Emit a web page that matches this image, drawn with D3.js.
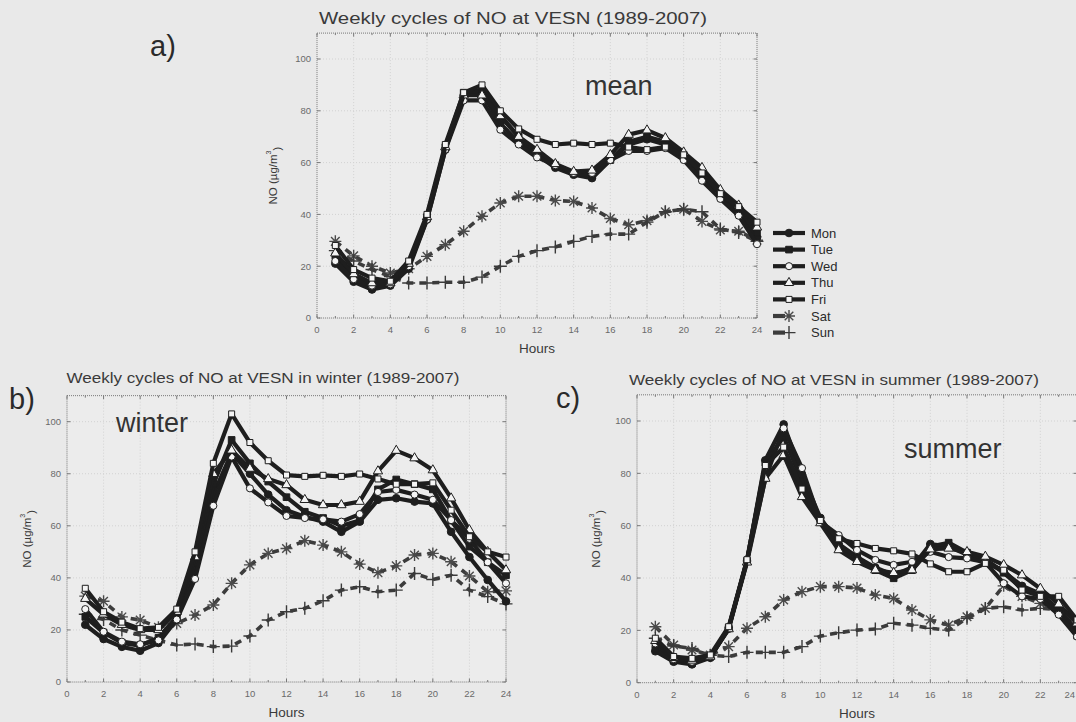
<!DOCTYPE html>
<meta charset="utf-8">
<script src="https://cdn.jsdelivr.net/npm/d3@7"></script>
<head>
	<title>Weekly cycles of NO at VESN</title>
	<style>
		body { margin: 0; background: #e9e9e9; }
		svg { display: block; font-family: "Liberation Sans", Arial, sans-serif; }
		.tick-label { font-size: 9.5px; fill: #6a6a6a; }
		.title { font-size: 14px; fill: #3a3a3a; }
	</style>
</head>
<body>
<div id="chart"></div>
<script>
	// hours of the day and the weekday names
	var hours = [1, 2, 3, 4, 5, 6, 7, 8, 9, 10, 11, 12, 13, 14, 15, 16, 17, 18, 19, 20, 21, 22, 23, 24];
	var days = ["Mon", "Tue", "Wed", "Thu", "Fri", "Sat", "Sun"];
	var xTicks = [0, 2, 4, 6, 8, 10, 12, 14, 16, 18, 20, 22, 24];
	var yTicks = [0, 20, 40, 60, 80, 100];

	// a) mean
	var meanMon = [21, 14, 11, 12.5, 19, 38, 65, 86, 87, 75, 68, 63, 58, 55.3, 54, 61, 67, 69, 67, 62, 55, 47, 40, 31];
	var meanTue = [24, 16, 13, 13.5, 20.5, 39, 66, 87, 88, 78, 70, 64, 59, 56, 55, 61, 68, 70, 68, 63, 56, 48, 42, 33];
	var meanWed = [22, 15, 12.5, 13, 20, 38, 65, 84, 84, 72.7, 67, 62, 59, 56, 56, 61, 64.5, 64.5, 65.6, 61, 53, 46, 39.5, 28.5];
	var meanThu = [25, 17, 13.5, 13.5, 21, 39, 66, 86, 86, 78, 70, 65, 59.5, 56.5, 57, 63, 70.8, 72.5, 69.5, 64, 58, 49.5, 43.5, 35];
	var meanFri = [28, 18.7, 15.4, 14.2, 22, 40, 67, 87, 90, 80, 73, 69, 67, 67.5, 67, 67.5, 66, 65, 66, 63, 56, 48, 43, 37];
	var meanSat = [29.6, 24, 20, 17.4, 19, 23.8, 28.3, 33.5, 39.3, 44.4, 47, 47, 45.4, 45, 42.5, 38.4, 36, 37.6, 41, 42, 37.3, 34, 33.5, 30];
	var meanSun = [26, 22, 18.7, 16, 13.5, 13.5, 13.8, 13.8, 15.8, 20, 23.8, 26, 27.4, 29.6, 31.5, 32.4, 32.4, 37, 41, 42, 41, 34.4, 33, 29.6];

	// b) winter
	var winterMon = [22, 16.5, 13.5, 12, 15, 24, 44, 72, 88, 80, 72, 66, 63.5, 61.6, 57.7, 61.6, 70, 70.6, 69.3, 68.6, 57.7, 48, 39.2, 31];
	var winterTue = [25, 19, 15, 14, 17, 25, 46, 76, 93, 84, 77, 71, 65.4, 63, 60, 62, 74, 77.8, 76, 74, 62, 52, 46, 41];
	var winterWed = [28, 19.3, 15.5, 14.5, 16, 24, 39.6, 67.7, 86.6, 74.4, 69, 63.8, 63, 62.5, 61.6, 64.5, 73, 73.8, 72, 70, 62.2, 55, 46, 37.9];
	var winterThu = [32, 26, 22, 20, 20, 27, 48, 80, 89, 82, 78, 75.7, 70, 68, 68, 69.3, 81, 88.9, 86, 81.4, 70.6, 58.4, 50, 43];
	var winterFri = [36, 27, 23, 20.5, 21, 28, 50, 84, 103, 92, 85, 79.5, 79, 79.4, 79, 79.9, 78, 76, 76, 76.5, 66, 55.8, 50, 48];
	var winterSat = [33, 31, 25, 23.8, 21, 22.5, 25.7, 29.6, 37.9, 45, 49.4, 51.3, 54.3, 52.6, 50, 45.3, 42, 44.6, 48.8, 49.4, 46.2, 40.7, 34.7, 35];
	var winterSun = [26, 24, 20, 18, 16, 14.2, 14.6, 13.6, 13.8, 17.7, 23.8, 27, 28.3, 31.2, 35.3, 36.6, 34.7, 35.3, 41.7, 39.4, 41, 35.3, 32.8, 30];

	// c) summer
	var summerMon = [12, 8, 7, 9.5, 21, 46.5, 85, 98.7, 79.4, 63, 53, 48, 44, 41.1, 44, 53, 52, 49, 47, 42.4, 37, 34, 28, 20];
	var summerTue = [13, 8.5, 7.5, 10, 21, 46.5, 84, 94, 77, 62.5, 52, 48, 43, 39.9, 43, 52, 53.5, 49.7, 47, 42, 36, 34, 27, 18];
	var summerWed = [15, 9, 8, 10, 20.5, 46.9, 78, 97.2, 82, 61.5, 56.4, 50.7, 46.9, 45, 46.2, 50, 48, 47.5, 46, 38, 33, 32, 26, 17.6];
	var summerThu = [16, 9.5, 8.5, 10, 20.5, 46, 78, 87, 71, 61, 50.7, 46.2, 43, 42, 43, 51, 51.3, 50, 48.2, 45, 41.1, 36, 30, 22.7];
	var summerFri = [17, 10, 9.3, 10.6, 21.4, 47, 83, 90, 74, 62, 55, 53.2, 51.3, 50.4, 49.2, 45.4, 42.4, 42.4, 45.6, 43, 35.4, 33, 33, 24];
	var summerSat = [21.4, 14.4, 12.5, 10.6, 13.8, 20.8, 25.2, 31.6, 34.8, 36.7, 36.7, 36.2, 33.5, 32.2, 27.8, 24, 22, 25.2, 28.4, 37, 33, 30.3, 28, 22];
	var summerSun = [17, 14, 13.1, 10.5, 10, 11.6, 11.6, 11.6, 13.8, 17.8, 19.1, 20.1, 20.5, 22.7, 22, 20.8, 20.1, 24.6, 28.4, 29, 27.8, 28.4, 28, 22];

	var width = 1076, height = 722;

	var svg = d3.select("#chart").append("svg")
		.attr("width", width)
		.attr("height", height);

	// marker shapes for each day
	var asterisk = "M-6,0H6M0,-6V6M-4.3,-4.3L4.3,4.3M-4.3,4.3L4.3,-4.3";
	var plus = "M-6.5,0H6.5M0,-6.5V6.5";
	var styles = {
		Mon: { symbol: d3.symbol().type(d3.symbolCircle).size(46)(), fill: "#1e1e1e", stroke: "#1e1e1e" },
		Tue: { symbol: d3.symbol().type(d3.symbolSquare).size(44)(), fill: "#1e1e1e", stroke: "#1e1e1e" },
		Wed: { symbol: d3.symbol().type(d3.symbolCircle).size(40)(), fill: "#f4f4f4", stroke: "#1e1e1e" },
		Thu: { symbol: d3.symbol().type(d3.symbolTriangle).size(38)(), fill: "#f4f4f4", stroke: "#1e1e1e" },
		Fri: { symbol: d3.symbol().type(d3.symbolSquare).size(36)(), fill: "#f4f4f4", stroke: "#1e1e1e" },
		Sat: { symbol: asterisk, fill: "none", stroke: "#4a4a4a", dashed: true },
		Sun: { symbol: plus, fill: "none", stroke: "#3a3a3a", dashed: true }
	};

	var panels = [
		{ x0: 317, x1: 757, y0: 318, y100: 59,
		  title: "Weekly cycles of NO at VESN (1989-2007)", titleX: 513, titleY: 24, titleW: 388, titleSize: 16,
		  letter: "a)", letterX: 150, letterY: 56, tag: "mean", tagX: 585, tagY: 95, yLabelDx: -44,
		  series: [meanMon, meanTue, meanWed, meanThu, meanFri, meanSat, meanSun] },
		{ x0: 67, x1: 506, y0: 682, y100: 421.7,
		  title: "Weekly cycles of NO at VESN in winter (1989-2007)", titleX: 263, titleY: 383, titleW: 393, titleSize: 14,
		  letter: "b)", letterX: 9, letterY: 409, tag: "winter", tagX: 116, tagY: 432, yLabelDx: -40,
		  series: [winterMon, winterTue, winterWed, winterThu, winterFri, winterSat, winterSun] },
		{ x0: 637, x1: 1077, y0: 682.7, y100: 421,
		  title: "Weekly cycles of NO at VESN in summer (1989-2007)", titleX: 834, titleY: 385, titleW: 410, titleSize: 14,
		  letter: "c)", letterX: 556, letterY: 408, tag: "summer", tagX: 904, tagY: 458, yLabelDx: -41,
		  series: [summerMon, summerTue, summerWed, summerThu, summerFri, summerSat, summerSun] }
	];

	panels.forEach(drawPanel);
	drawLegend(773, 233, 16.6);

	function drawPanel(p) {
		var x = d3.scaleLinear().domain([0, 24]).range([p.x0, p.x1]);
		var y = d3.scaleLinear().domain([0, 100]).range([p.y0, p.y100]);
		var top = y(110);
		var g = svg.append("g");

		// plot area
		g.append("rect")
			.attr("x", p.x0).attr("y", top)
			.attr("width", p.x1 - p.x0).attr("height", p.y0 - top)
			.attr("fill", "#ececec");

		// faint dotted grid
		g.selectAll(".gx").data(xTicks.slice(1, -1)).enter().append("line")
			.attr("x1", d => x(d)).attr("x2", d => x(d))
			.attr("y1", top).attr("y2", p.y0)
			.attr("stroke", "#d2d2d2").attr("stroke-dasharray", "1,2");
		g.selectAll(".gy").data(yTicks.slice(1)).enter().append("line")
			.attr("x1", p.x0).attr("x2", p.x1)
			.attr("y1", d => y(d)).attr("y2", d => y(d))
			.attr("stroke", "#d2d2d2").attr("stroke-dasharray", "1,2");

		// dotted frame
		g.append("rect")
			.attr("x", p.x0).attr("y", top)
			.attr("width", p.x1 - p.x0).attr("height", p.y0 - top)
			.attr("fill", "none").attr("stroke", "#777").attr("stroke-dasharray", "1,1");

		// inward ticks, all four sides
		var minorX = d3.range(0, 25);
		g.selectAll(".tb").data(minorX).enter().append("line")
			.attr("x1", d => x(d)).attr("x2", d => x(d))
			.attr("y1", p.y0).attr("y2", d => p.y0 - (d % 2 ? 2 : 3.5))
			.attr("stroke", "#777");
		g.selectAll(".tt").data(minorX).enter().append("line")
			.attr("x1", d => x(d)).attr("x2", d => x(d))
			.attr("y1", top).attr("y2", d => top + (d % 2 ? 2 : 3.5))
			.attr("stroke", "#777");
		g.selectAll(".tl").data(yTicks).enter().append("line")
			.attr("x1", p.x0).attr("x2", p.x0 + 3.5)
			.attr("y1", d => y(d)).attr("y2", d => y(d))
			.attr("stroke", "#777");
		g.selectAll(".tr").data(yTicks).enter().append("line")
			.attr("x1", p.x1).attr("x2", p.x1 - 3.5)
			.attr("y1", d => y(d)).attr("y2", d => y(d))
			.attr("stroke", "#777");

		// tick labels (the last one of panel c sits at the page edge)
		g.selectAll(".xl").data(xTicks).enter().append("text")
			.attr("class", "tick-label")
			.attr("x", d => Math.min(x(d), width - 1))
			.attr("y", p.y0 + 15)
			.attr("text-anchor", d => x(d) + 6 > width ? "end" : "middle")
			.text(d => d);
		g.selectAll(".yl").data(yTicks).enter().append("text")
			.attr("class", "tick-label")
			.attr("x", p.x0 - 6).attr("y", d => y(d))
			.attr("dy", "0.35em")
			.attr("text-anchor", "end")
			.text(d => d);

		// axis titles
		g.append("text")
			.attr("x", (p.x0 + p.x1) / 2).attr("y", p.y0 + 35)
			.attr("text-anchor", "middle")
			.style("font-size", "13.5px").style("fill", "#3a3a3a")
			.text("Hours");
		var yl = g.append("text")
			.attr("transform", "translate(" + (p.x0 + p.yLabelDx) + "," + ((top + p.y0) / 2) + ") rotate(-90)")
			.attr("text-anchor", "middle")
			.attr("dy", "0.35em")
			.style("font-size", "11.5px").style("fill", "#3a3a3a");
		yl.append("tspan").text("NO (µg/m");
		yl.append("tspan").attr("dy", "-0.8em").style("font-size", "7px").text("3");
		yl.append("tspan").attr("dy", "0.8em").text(")");

		// title, panel letter, season tag
		g.append("text")
			.attr("class", "title")
			.attr("x", p.titleX).attr("y", p.titleY)
			.attr("text-anchor", "middle")
			.attr("textLength", p.titleW).attr("lengthAdjust", "spacingAndGlyphs")
			.style("font-size", p.titleSize + "px")
			.text(p.title);
		g.append("text")
			.attr("x", p.letterX).attr("y", p.letterY)
			.style("font-size", "29px").style("fill", "#2a2a2a")
			.text(p.letter);
		g.append("text")
			.attr("x", p.tagX).attr("y", p.tagY)
			.style("font-size", "27px").style("fill", "#333")
			.text(p.tag);

		// lines: weekend first, weekdays on top
		var line = d3.line()
			.x((d, i) => x(hours[i]))
			.y(d => y(d));
		var order = [5, 6, 0, 1, 2, 3, 4];
		order.forEach(function(k) {
			var s = styles[days[k]];
			var vals = p.series[k];
			g.append("path")
				.attr("d", line(vals))
				.attr("fill", "none")
				.attr("stroke", s.dashed ? "#3c3c3c" : "#1e1e1e")
				.attr("stroke-width", s.dashed ? 3.6 : 4.2)
				.attr("stroke-dasharray", s.dashed ? "7,6" : null)
				.attr("stroke-linejoin", "round");
			g.selectAll(null).data(vals).enter().append("path")
				.attr("transform", (d, i) => "translate(" + x(hours[i]) + "," + y(d) + ")")
				.attr("d", s.symbol)
				.attr("fill", s.fill)
				.attr("stroke", s.stroke)
				.attr("stroke-width", s.dashed ? 1.4 : 1);
		});
	}

	function drawLegend(lx, ly, step) {
		var lg = svg.append("g");
		days.forEach(function(day, i) {
			var s = styles[day];
			var yy = ly + i * step;
			lg.append("line")
				.attr("x1", lx).attr("x2", lx + 32)
				.attr("y1", yy).attr("y2", yy)
				.attr("stroke", s.dashed ? "#3c3c3c" : "#1e1e1e")
				.attr("stroke-width", 4.2)
				.attr("stroke-dasharray", s.dashed ? "12,20" : null);
			lg.append("path")
				.attr("transform", "translate(" + (lx + 16) + "," + yy + ")")
				.attr("d", s.symbol)
				.attr("fill", s.fill)
				.attr("stroke", s.stroke)
				.attr("stroke-width", s.dashed ? 1.4 : 1);
			lg.append("text")
				.attr("x", lx + 38).attr("y", yy)
				.attr("dy", "0.35em")
				.style("font-size", "13px").style("fill", "#2a2a2a")
				.text(day);
		});
	}
</script>
</body>
</html>
